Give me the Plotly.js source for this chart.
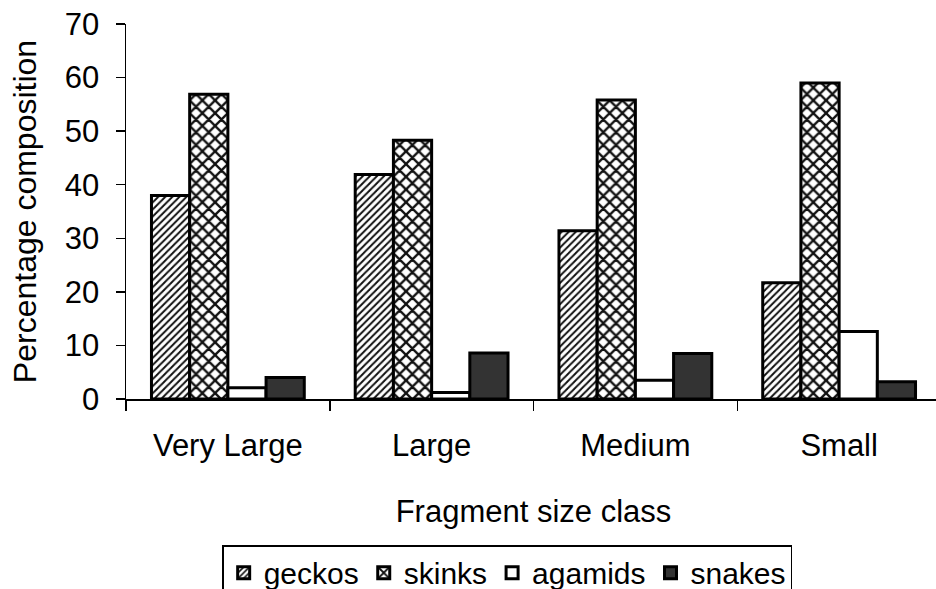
<!DOCTYPE html>
<html><head><meta charset="utf-8">
<script src="https://cdn.plot.ly/plotly-3.0.1.min.js"></script>
<style>html,body{margin:0;padding:0;overflow:hidden;background:#fff;}</style>
</head><body>
<div id="chart"></div>
<script>
const categories = ["Very Large", "Large", "Medium", "Small"];
const geckos  = [38.0, 41.9, 31.4, 21.7];
const skinks  = [56.9, 48.3, 55.8, 59.0];
const agamids = [2.1, 1.2, 3.5, 12.6];
const snakes  = [4.0, 8.6, 8.5, 3.2];

const F = "Liberation Sans, Arial, sans-serif";
const line = {color: "#000", width: 3};
const traces = [
  {name: "geckos", y: geckos, marker: {color: "#fff", line: line, pattern: {shape: "/", fgcolor: "#111", bgcolor: "#fff", size: 5, solidity: 0.4}}},
  {name: "skinks", y: skinks, marker: {color: "#fff", line: line, pattern: {shape: "x", fgcolor: "#111", bgcolor: "#fff", size: 9, solidity: 0.45}}},
  {name: "agamids", y: agamids, marker: {color: "#fff", line: line}},
  {name: "snakes", y: snakes, marker: {color: "#333", line: line}}
].map(t => Object.assign({type: "bar", x: categories}, t));

const layout = {
  width: 945, height: 589,
  margin: {l: 126, r: 4, t: 24, b: 190, autoexpand: false},
  paper_bgcolor: "#fff", plot_bgcolor: "#fff",
  barmode: "group", bargap: 0.25, bargroupgap: 0,
  font: {family: F, color: "#000", size: 30},
  xaxis: {
    showline: true, linecolor: "#000", linewidth: 1.5,
    ticks: "outside", tickson: "boundaries", ticklen: 10, tickcolor: "#000", tickwidth: 1.5,
    tickfont: {size: 31}, ticklabelstandoff: 18,
    title: {text: "Fragment size class", font: {size: 31}, standoff: 38}
  },
  yaxis: {
    range: [0, 70], dtick: 10, showgrid: false, zeroline: false,
    showline: true, linecolor: "#000", linewidth: 1.5,
    ticks: "outside", ticklen: 9, tickcolor: "#000", tickwidth: 1.5,
    tickfont: {size: 31}, ticklabelstandoff: 10,
    title: {text: "Percentage composition", font: {size: 32}, standoff: 18}
  },
  showlegend: true,
  legend: {
    orientation: "h", x: 0.118, xanchor: "left", y: -0.39, yanchor: "top",
    bordercolor: "#000", borderwidth: 1.5, font: {size: 30},
    itemwidth: 30, tracegroupgap: 0
  }
};
Plotly.newPlot("chart", traces, layout, {displayModeBar: false, staticPlot: true});
</script>
</body></html>
